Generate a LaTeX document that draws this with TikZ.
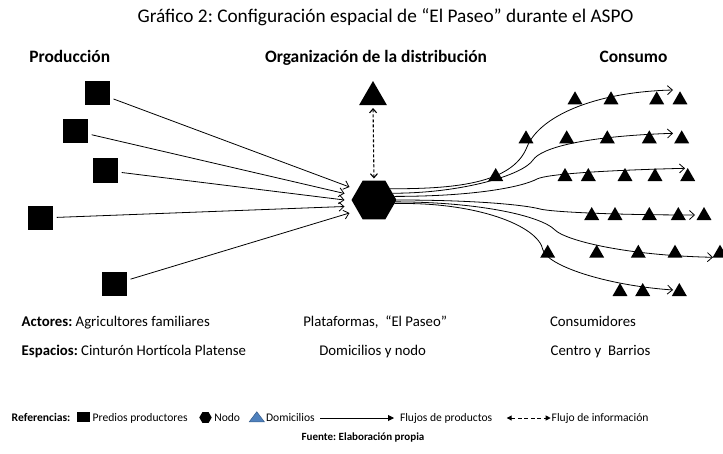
\documentclass[tikz,border=0pt]{standalone}
\usepackage{fontspec}
\setmainfont{Carlito}
\usetikzlibrary{shapes.geometric,arrows.meta,calc}
\definecolor{domblue}{HTML}{4F81BD}
\definecolor{domedge}{HTML}{385D8A}
\frenchspacing
\begin{document}
\begin{tikzpicture}[x=1pt,y=-1pt,
  every node/.style={inner sep=0pt,outer sep=0pt},
  predio/.style={fill=black,minimum size=24.5pt},
  nodo/.style={regular polygon,regular polygon sides=6,fill=black,minimum size=45pt},
  dom/.style={regular polygon,regular polygon sides=3,fill=black,minimum size=17.3pt,anchor=south},
  flow/.style={-{Straight Barb[length=5pt,width=9pt]},line width=.8pt},
  info/.style={{Straight Barb[length=4pt,width=7pt]}-{Straight Barb[length=4pt,width=7pt]},dash pattern=on 3pt off 2pt,line width=1.1pt},
  head/.style={anchor=base west,font=\bfseries\fontsize{17.4}{20}\selectfont},
  txt/.style={anchor=base west,font=\fontsize{14.8}{17}\selectfont},
  ref/.style={anchor=base west,font=\fontsize{11.6}{13}\selectfont}]
  \useasboundingbox (0,0) rectangle (723,453);
  \node[anchor=base,font=\fontsize{19.3}{22}\selectfont] (title) at (385.5,22) {Gráfico 2: Configuración espacial de “El Paseo” durante el ASPO};
  \node[head] (hprod) at (29.3,62.5) {Producción};
  \node[head] (horg) at (265,62.5) {Organización de la distribución};
  \node[head,anchor=base] (hcons) at (633.5,62.5) {Consumo};
  \node[nodo] (hex) at (374,200) {};
  \node[dom,minimum size=32pt] (domi) at (373,105) {};
  \draw[info,shorten <=3pt,shorten >=2pt] (domi.south) -- (hex.north);
  \foreach \i/\x/\y/\dx/\dy in {1/97.5/93/-2/-13, 2/75.5/131/-7/-6.5, 3/105.5/170.5/-7/0, 4/40.5/218/-7/6.5, 5/114.5/284/-2/13} {
    \node[predio] (p\i) at (\x,\y) {};
    \draw[flow,shorten <=4pt] (p\i) -- ($(hex.west)+(\dx,\dy)$);
  }
  \foreach \n/\x/\y in {b1/527/147, b2/533/160, b3/537/179, b4/540/209, b5/555/230, b6/543/250,
                        e1/673/90, e2/673/133.3, e3/685/168.3, e4/695/215, e5/713/257.3, e6/673/290}
    \coordinate (\n) at (\x,\y);
  \draw[flow] (hex.35) .. controls +(60,0) and +(-15,38) .. (b1) .. controls +(12,-30) and +(-80,2) .. (e1);
  \draw[flow] (hex.20) .. controls +(70,0) and +(-10,15) .. (b2) .. controls +(8,-12) and +(-90,3) .. (e2);
  \draw[flow] (hex.10) .. controls +(80,0) and +(-15,8) .. (b3) .. controls +(10,-5) and +(-80,2) .. (e3);
  \draw[flow] (hex.east) .. controls +(80,0) and +(-15,-4) .. (b4) .. controls +(12,3) and +(-80,0) .. (e4);
  \draw[flow] (hex.-5) .. controls +(80,0) and +(-15,-15) .. (b5) .. controls +(10,10) and +(-90,-2) .. (e5);
  \draw[flow] (hex.-10) .. controls +(80,-2) and +(-5,-25) .. (b6) .. controls +(4,15) and +(-70,-5) .. (e6);
  \foreach \x/\y [count=\i] in {575/104.3, 611/104.3, 656.7/104.3, 680/104.3,
      526/143.3, 566.7/143.3, 607.3/143.3, 649.3/143.3, 681.7/143.3,
      495.7/181, 565/181, 588.3/181, 625/181, 655/181, 687.7/181,
      591.7/220, 615/220, 649.3/220, 678.3/220, 704/220,
      547.7/257.7, 596.7/257.7, 638.3/257.7, 675/257.7, 720/257.7,
      620/296, 642.7/296, 679.3/296}
    \node[dom] (d\i) at (\x,\y) {};
  \node[txt] (act) at (21.7,326.7) {\textbf{Actores:} Agricultores familiares};
  \node[txt] (esp) at (21.7,355) {\textbf{Espacios:} Cinturón Hortícola Platense};
  \node[txt] (plat) at (303.3,326.7) {Plataformas,\ \ “El Paseo”};
  \node[txt] (domn) at (319.3,355) {Domicilios y nodo};
  \node[txt] (cons) at (550,326.7) {Consumidores};
  \node[txt] (cent) at (550.7,355) {Centro y\ \ Barrios};
  \node[ref,font=\bfseries\fontsize{11.6}{13}\selectfont] (refs) at (11.7,421.7) {Referencias:};
  \node[predio,minimum width=13pt,minimum height=10pt] (lsq) at (83.3,417) {};
  \node[ref] (lpred) at (92.7,421.7) {Predios productores};
  \node[nodo,minimum size=12.4pt] (lhex) at (205.5,417.5) {};
  \node[ref] (lnodo) at (214.3,421.7) {Nodo};
  \node[isosceles triangle,isosceles triangle stretches,shape border rotate=90,minimum width=15pt,minimum height=10pt,fill=domblue,draw=domedge,line width=.5pt] (ltri) at (256.8,418) {};
  \node[ref] (ldom) at (266,421.7) {Domicilios};
  \node[ref] (lprod) at (400,421.7) {Flujos de productos};
  \node[ref] (linfo) at (551.7,421.7) {Flujo de información};
  \coordinate (la) at (320,418);
  \coordinate (lb) at (506.7,418);
  \draw[-{Triangle[length=6pt,width=6pt]},line width=.9pt,shorten >=6pt] (la) -- (lprod.west |- la);
  \draw[{Triangle[length=5pt,width=5pt]}-{Triangle[length=5pt,width=5pt]},dash pattern=on 4pt off 2.5pt,line width=1pt,shorten >=1pt] (lb) -- (linfo.west |- lb);
  \node[anchor=base,font=\bfseries\fontsize{11}{13}\selectfont] (fuente) at (363,440.5) {Fuente: Elaboración propia};
\end{tikzpicture}
\end{document}
